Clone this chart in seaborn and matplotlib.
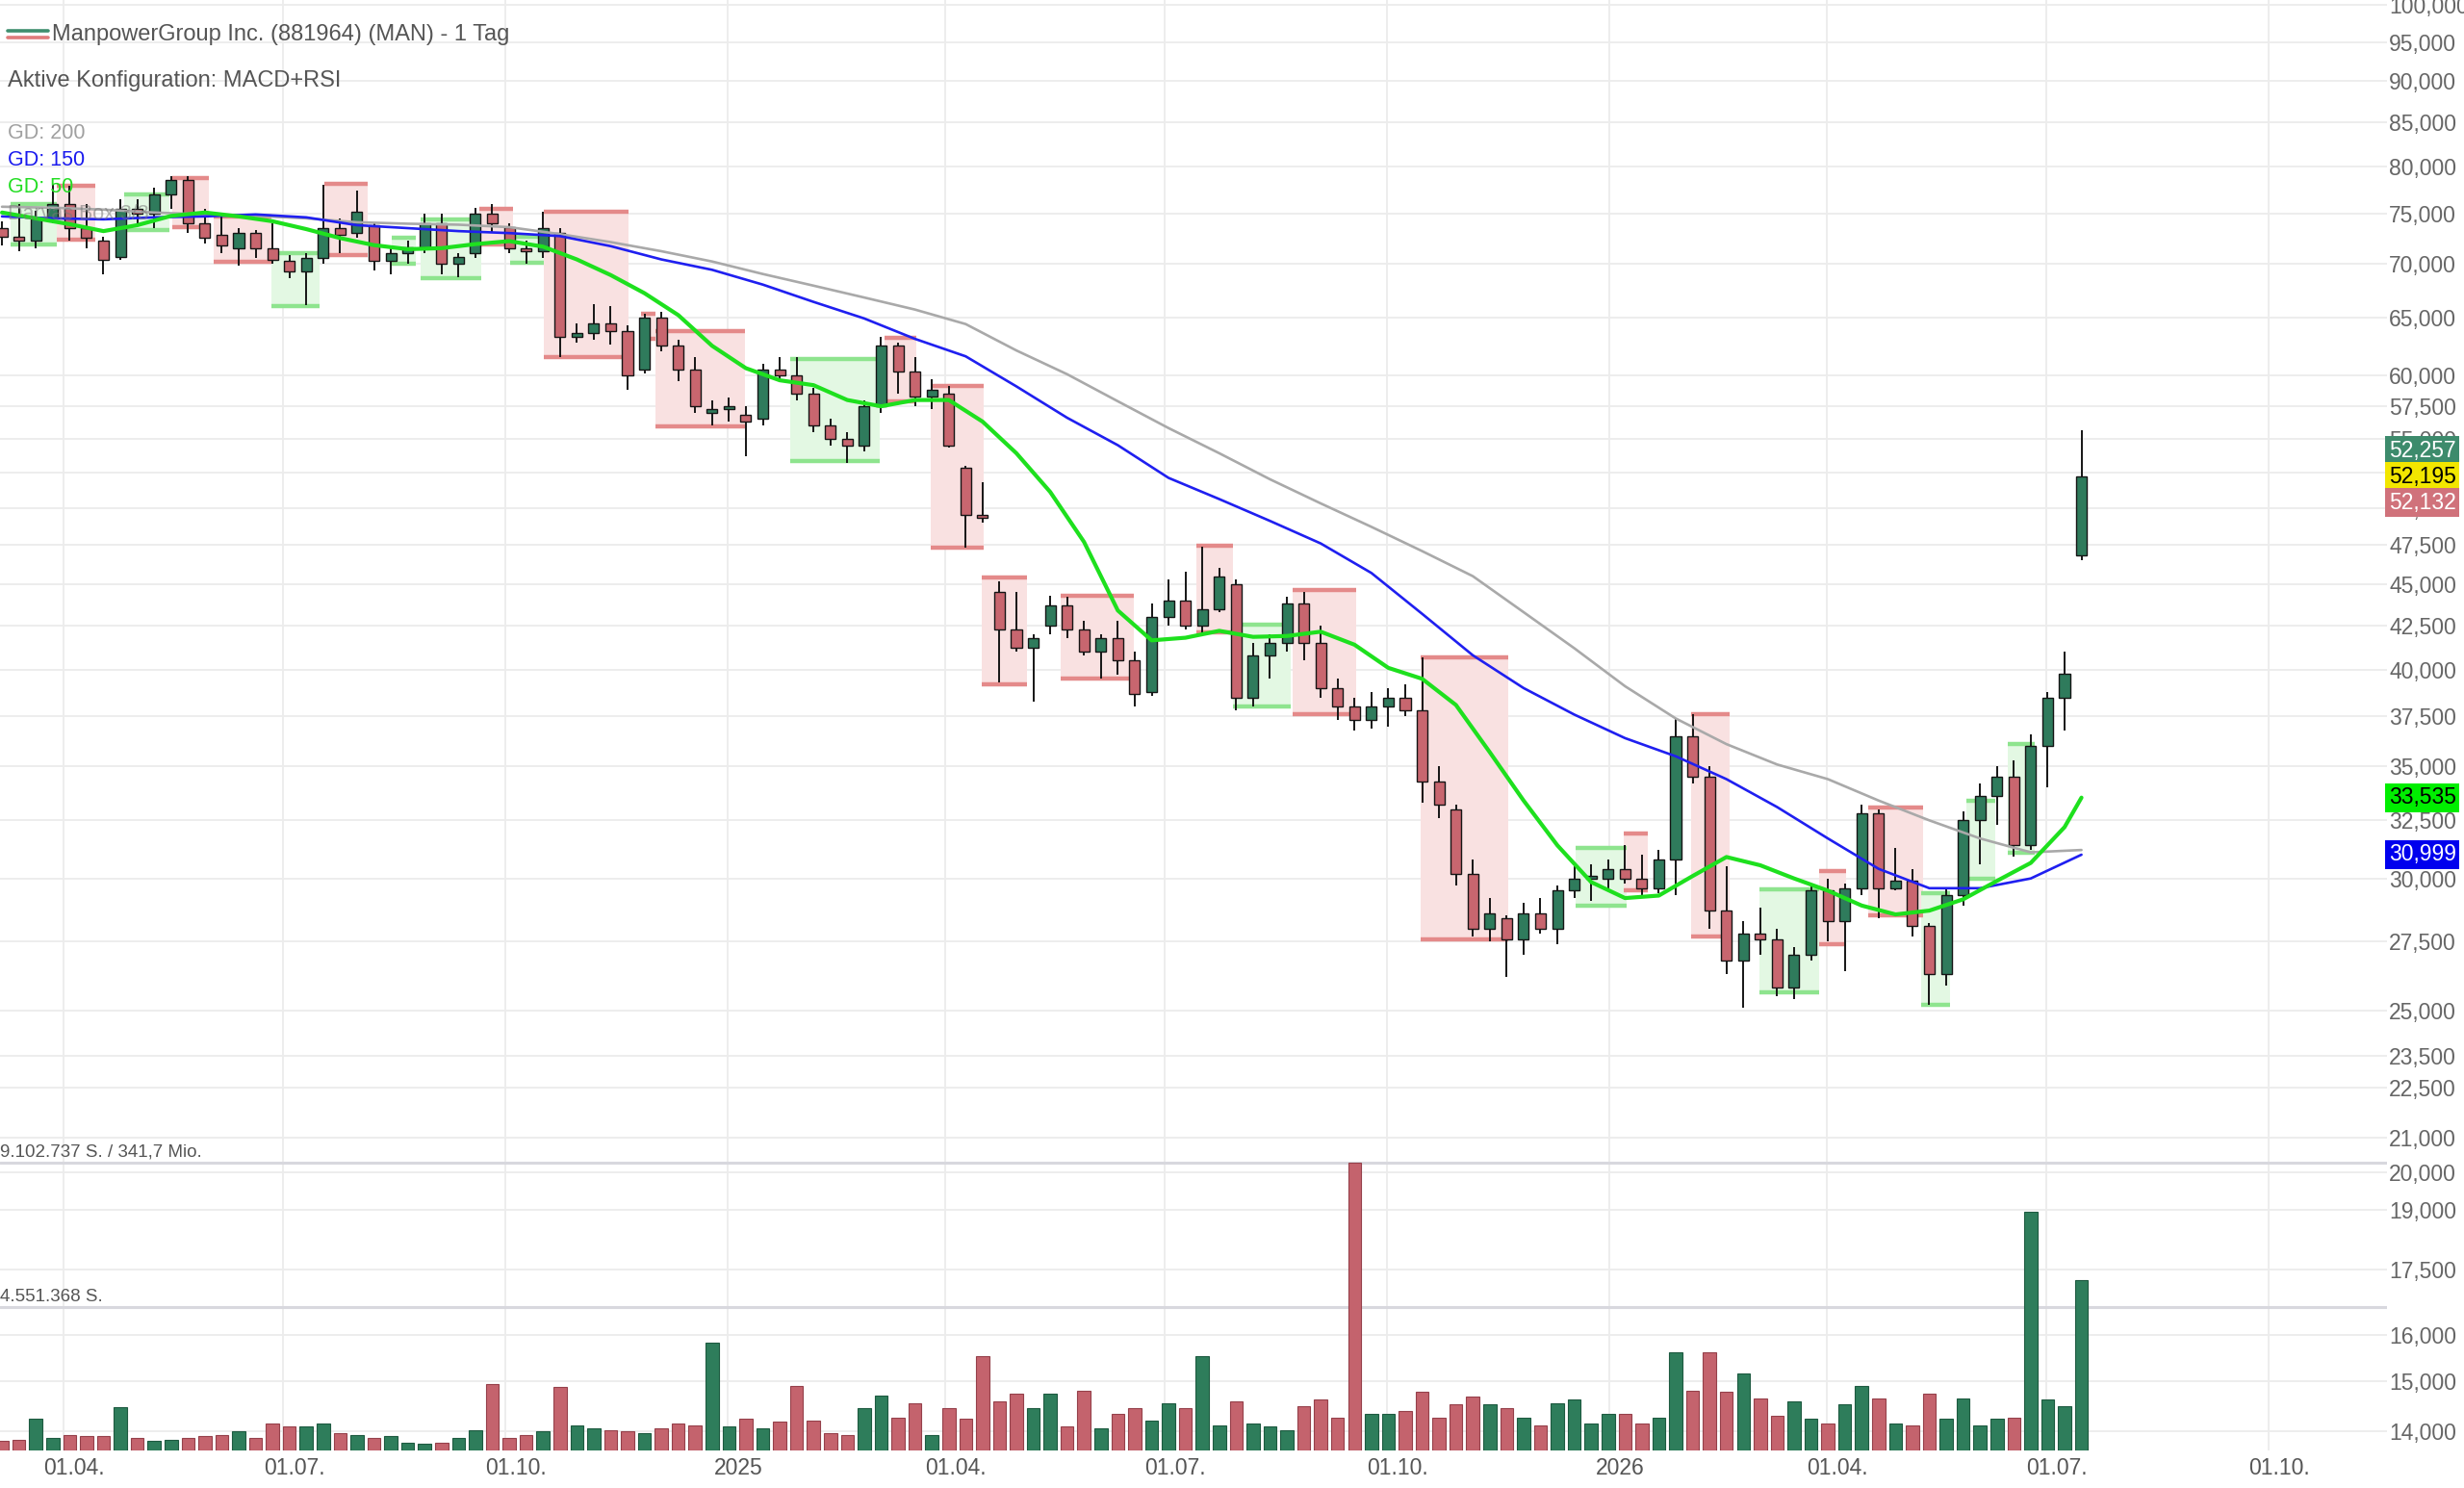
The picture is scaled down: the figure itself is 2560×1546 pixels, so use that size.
import numpy as np
import pandas as pd
import matplotlib
matplotlib.use("Agg")
import matplotlib.pyplot as plt
from matplotlib.lines import Line2D
from matplotlib.ticker import NullLocator
from matplotlib.transforms import ScaledTranslation
import seaborn as sns

# weekly candles (week starting monday), price values
week_start = pd.date_range("2024-03-04", periods=124, freq="7D")

opens = [73.5, 72.6, 72.2, 74.5, 76.0, 73.5, 72.2, 70.6, 75.5, 75.0,
         77.0, 78.5, 74.0, 72.8, 71.5, 73.0, 71.5, 70.3, 69.2, 70.5,
         73.5, 73.0, 73.8, 70.3, 71.0, 71.6, 74.0, 70.0, 71.0, 75.0,
         73.6, 71.5, 71.2, 73.0, 63.3, 63.6, 64.5, 63.8, 60.5, 65.0,
         62.5, 60.5, 57.0, 57.3, 56.8, 56.5, 60.5, 60.0, 58.5, 56.0,
         55.0, 54.5, 57.5, 62.5, 60.3, 58.3, 58.5, 52.8, 49.5, 44.5,
         42.3, 41.2, 42.5, 43.7, 42.3, 41.0, 41.8, 40.5, 38.8, 43.0,
         44.0, 42.5, 43.5, 45.0, 38.5, 40.8, 41.5, 43.8, 41.5, 39.0,
         38.0, 37.3, 38.0, 38.5, 37.8, 34.3, 33.0, 30.2, 28.0, 28.4,
         27.6, 28.6, 28.0, 29.5, 30.0, 30.0, 30.4, 30.0, 29.6, 30.8,
         36.5, 34.5, 28.7, 26.8, 27.8, 27.6, 25.8, 27.0, 29.5, 28.3,
         29.6, 32.8, 29.6, 29.9, 28.1, 26.3, 29.3, 32.5, 33.6, 34.5,
         31.4, 36.0, 38.5, 46.8]
highs = [74.2, 76.0, 75.3, 78.1, 77.9, 76.0, 72.6, 76.5, 76.5, 77.7,
         79.0, 79.0, 75.5, 74.7, 73.5, 73.3, 74.0, 70.8, 71.0, 78.0,
         74.5, 77.4, 74.0, 71.5, 72.2, 75.0, 75.0, 71.0, 75.6, 76.0,
         74.0, 72.2, 75.2, 73.5, 64.5, 66.2, 66.0, 64.3, 65.3, 65.5,
         63.0, 61.5, 58.0, 58.2, 57.5, 61.0, 61.5, 61.5, 59.0, 56.5,
         55.5, 58.0, 63.3, 62.8, 61.5, 59.7, 59.1, 53.0, 51.8, 45.2,
         44.5, 42.0, 44.3, 44.2, 42.8, 42.0, 42.8, 41.0, 43.8, 45.3,
         45.8, 47.4, 46.0, 45.3, 41.5, 42.0, 44.2, 44.5, 42.5, 39.5,
         38.5, 38.8, 39.0, 39.2, 40.7, 35.0, 33.2, 30.8, 29.2, 28.5,
         29.0, 29.2, 29.7, 30.5, 30.6, 30.8, 31.4, 31.0, 31.2, 37.4,
         37.6, 35.0, 30.5, 28.3, 28.8, 28.0, 27.3, 29.7, 30.0, 29.8,
         33.2, 33.0, 31.3, 30.4, 28.2, 29.6, 32.9, 34.2, 35.0, 35.3,
         36.6, 38.8, 41.0, 55.6]
lows = [71.8, 71.2, 71.5, 74.0, 72.2, 71.5, 69.0, 70.4, 74.0, 73.5,
        75.5, 73.0, 72.0, 71.0, 69.8, 70.5, 70.0, 68.6, 66.1, 70.0,
        71.0, 72.5, 69.3, 69.0, 70.0, 71.0, 69.0, 68.7, 70.5, 73.0,
        71.0, 70.0, 70.5, 61.5, 62.8, 63.0, 62.6, 58.8, 60.2, 62.0,
        59.5, 57.0, 56.0, 56.3, 53.7, 56.0, 59.5, 58.0, 55.5, 54.5,
        53.2, 54.0, 57.0, 58.5, 57.5, 57.3, 54.3, 47.3, 49.0, 39.3,
        41.0, 38.3, 42.0, 41.8, 40.8, 39.5, 39.7, 38.0, 38.6, 42.5,
        42.3, 42.0, 43.3, 37.8, 38.0, 39.5, 41.0, 40.5, 38.5, 37.3,
        36.8, 36.9, 37.0, 37.5, 33.3, 32.6, 29.7, 27.7, 27.5, 26.2,
        27.0, 27.8, 27.4, 29.2, 29.1, 29.6, 29.8, 29.3, 29.4, 29.3,
        34.2, 28.0, 26.3, 25.1, 27.0, 25.5, 25.4, 26.8, 27.5, 26.4,
        29.3, 28.4, 29.5, 27.7, 25.2, 25.9, 28.9, 30.6, 32.3, 30.9,
        31.2, 34.0, 36.8, 46.5]
closes = [72.6, 72.2, 74.5, 76.0, 73.5, 72.5, 70.4, 75.5, 75.0, 77.0,
          78.5, 74.0, 72.5, 71.8, 73.0, 71.5, 70.4, 69.2, 70.5, 73.5,
          72.8, 75.2, 70.3, 71.0, 71.6, 74.0, 70.0, 70.6, 75.0, 74.0,
          71.5, 71.2, 73.5, 63.3, 63.6, 64.5, 63.8, 60.0, 65.0, 62.5,
          60.5, 57.5, 57.3, 57.5, 56.3, 60.5, 60.0, 58.5, 56.0, 55.0,
          54.5, 57.5, 62.5, 60.3, 58.3, 58.8, 54.5, 49.5, 49.3, 42.3,
          41.2, 41.8, 43.7, 42.3, 41.0, 41.8, 40.5, 38.7, 43.0, 44.0,
          42.5, 43.5, 45.5, 38.5, 40.8, 41.5, 43.8, 41.5, 39.0, 38.0,
          37.3, 38.0, 38.5, 37.8, 34.3, 33.2, 30.2, 28.0, 28.6, 27.6,
          28.6, 28.0, 29.5, 30.0, 30.0, 30.4, 30.0, 29.6, 30.8, 36.5,
          34.5, 28.7, 26.8, 27.8, 27.6, 25.8, 27.0, 29.5, 28.3, 29.6,
          32.8, 29.6, 29.9, 28.1, 26.3, 29.3, 32.5, 33.6, 34.5, 31.4,
          36.0, 38.5, 39.8, 52.2]
# volume per week in million shares
volumes = [0.30, 0.35, 1.00, 0.40, 0.50, 0.45, 0.45, 1.37, 0.40, 0.30,
           0.35, 0.40, 0.45, 0.50, 0.60, 0.40, 0.85, 0.75, 0.75, 0.85,
           0.55, 0.50, 0.40, 0.45, 0.25, 0.20, 0.25, 0.40, 0.65, 2.10,
           0.40, 0.50, 0.60, 2.00, 0.80, 0.70, 0.65, 0.60, 0.55, 0.70,
           0.85, 0.80, 3.40, 0.75, 1.00, 0.70, 0.90, 2.05, 0.95, 0.55,
           0.50, 1.35, 1.75, 1.05, 1.50, 0.50, 1.35, 1.00, 3.00, 1.55,
           1.80, 1.35, 1.80, 0.75, 1.90, 0.70, 1.15, 1.35, 0.95, 1.50,
           1.35, 3.00, 0.80, 1.55, 0.85, 0.75, 0.65, 1.40, 1.60, 1.05,
           9.10, 1.15, 1.15, 1.25, 1.85, 1.05, 1.45, 1.70, 1.45, 1.35,
           1.05, 0.80, 1.50, 1.60, 0.85, 1.15, 1.15, 0.85, 1.05, 3.10,
           1.90, 3.10, 1.85, 2.45, 1.65, 1.10, 1.55, 1.00, 0.85, 1.45,
           2.05, 1.65, 0.85, 0.80, 1.80, 1.00, 1.65, 0.80, 1.00, 1.05,
           7.55, 1.60, 1.40, 5.40]

# GD 50: one value every 2nd week plus the last week
gd50 = [75.1, 74.5, 73.9, 73.2, 73.8, 74.75, 75.1, 74.7, 74.2, 73.4,
        72.5, 71.8, 71.4, 71.5, 71.9, 72.2, 71.65, 70.4, 68.9, 67.2,
        65.2, 62.5, 60.6, 59.6, 59.2, 58.0, 57.5, 58.0, 58.0, 56.3,
        53.9, 51.1, 47.7, 43.4, 41.65, 41.8, 42.2, 41.85, 41.9, 42.15,
        41.4, 40.1, 39.5, 38.1, 35.7, 33.4, 31.4, 29.85, 29.2, 29.3,
        30.1, 30.9, 30.55, 30.0, 29.5, 28.9, 28.55, 28.7, 29.15, 29.9,
        30.65, 32.2, 33.535]
# GD 150 / GD 200: one value every 3rd week
gd150 = [74.7, 74.5, 74.4, 74.6, 74.7, 74.9, 74.6, 73.8, 73.5, 73.2,
         73.0, 72.7, 71.7, 70.4, 69.4, 68.0, 66.4, 64.9, 63.1, 61.6,
         59.1, 56.6, 54.5, 52.1, 50.6, 49.1, 47.6, 45.7, 43.2, 40.8,
         39.0, 37.6, 36.4, 35.5, 34.4, 33.1, 31.7, 30.4, 29.6, 29.6,
         30.0, 30.999]
gd200 = [75.7, 75.6, 75.4, 75.1, 74.9, 74.75, 74.5, 74.1, 73.95, 73.85,
         73.6, 72.9, 72.1, 71.2, 70.2, 69.0, 67.9, 66.8, 65.7, 64.4,
         62.1, 60.1, 57.9, 55.8, 53.9, 52.0, 50.3, 48.7, 47.1, 45.5,
         43.3, 41.2, 39.1, 37.4, 36.1, 35.1, 34.4, 33.4, 32.5, 31.7,
         31.1, 31.2]

# Darvas boxes
box_start = ["2024-03-10", "2024-03-29", "2024-04-26", "2024-05-16", "2024-06-02",
             "2024-06-26", "2024-07-18", "2024-08-15", "2024-08-27", "2024-09-20",
             "2024-10-03", "2024-10-17", "2024-11-26", "2024-12-02", "2025-01-27",
             "2025-03-07", "2025-03-26", "2025-04-16", "2025-05-19", "2025-07-14",
             "2025-07-29", "2025-08-23", "2025-10-15", "2025-12-18", "2026-01-07",
             "2026-02-04", "2026-03-04", "2026-03-29", "2026-04-18", "2026-05-10",
             "2026-05-29", "2026-06-15"]
box_end = ["2024-03-29", "2024-04-14", "2024-05-15", "2024-05-31", "2024-06-26",
           "2024-07-16", "2024-08-05", "2024-08-25", "2024-09-21", "2024-10-04",
           "2024-10-17", "2024-11-21", "2024-12-02", "2025-01-08", "2025-03-05",
           "2025-03-20", "2025-04-17", "2025-05-05", "2025-06-18", "2025-07-29",
           "2025-08-22", "2025-09-18", "2025-11-20", "2026-01-08", "2026-01-17",
           "2026-02-20", "2026-03-29", "2026-04-09", "2026-05-11", "2026-05-22",
           "2026-06-10", "2026-06-26"]
box_top = [76.0, 77.9, 77.0, 78.8, 74.7, 71.0, 78.1, 72.5, 74.4, 75.5,
           72.6, 75.2, 65.3, 63.8, 61.4, 63.2, 59.1, 45.4, 44.3, 47.45,
           42.55, 44.65, 40.7, 31.3, 31.9, 37.6, 29.55, 30.3, 33.1, 29.4,
           33.4, 36.1]
box_bottom = [71.9, 72.3, 73.3, 73.6, 70.2, 66.0, 70.8, 70.0, 68.6, 71.9,
              70.1, 61.5, 63.1, 55.9, 53.3, 57.9, 47.3, 39.2, 39.5, 42.1,
              38.0, 37.6, 27.6, 28.9, 29.5, 27.7, 25.65, 27.4, 28.5, 25.2,
              30.0, 31.1]
box_kind = ["g", "r", "g", "r", "r", "g", "r", "g", "g", "r",
            "g", "r", "r", "r", "g", "r", "r", "r", "r", "r",
            "g", "r", "r", "g", "r", "r", "g", "r", "r", "g",
            "g", "g"]

y_ticks = [100, 95, 90, 85, 80, 75, 70, 65, 60, 57.5, 55, 52.5, 50, 47.5, 45,
           42.5, 40, 37.5, 35, 32.5, 30, 27.5, 25, 23.5, 22.5, 21, 20, 19,
           17.5, 16, 15, 14]
x_tick_dates = ["2024-04-01", "2024-07-01", "2024-10-01", "2025-01-01", "2025-04-01",
                "2025-07-01", "2025-10-01", "2026-01-01", "2026-04-01", "2026-07-01",
                "2026-10-01"]
x_tick_labels = ["01.04.", "01.07.", "01.10.", "2025", "01.04.", "01.07.", "01.10.",
                 "2026", "01.04.", "01.07.", "01.10."]

vol_max = 9102737
last_price = 52.195
ask_price = 52.257
bid_price = 52.132

GREEN = "#2f7b5c"
RED = "#c8666f"

sns.set_theme(style="white")
plt.rcParams["font.family"] = ["Liberation Sans", "DejaVu Sans"]

W, H = 2560, 1546
fig = plt.figure(figsize=(W / 100, H / 100), dpi=100)
ax = fig.add_axes([0, 1 - 1507 / H, 2480 / W, 1507 / H])

centers = week_start + pd.Timedelta(hours=60)
o = np.array(opens)
c = np.array(closes)
up = c >= o

# boxes
for s, e, t, b, k in zip(box_start, box_end, box_top, box_bottom, box_kind):
    fill = "#f9e1e1" if k == "r" else "#e3f8e3"
    edge = "#e48a8a" if k == "r" else "#8ee48e"
    xs = [pd.Timestamp(s), pd.Timestamp(e)]
    ax.fill_between(xs, b, t, color=fill, lw=0, zorder=1.5)
    ax.hlines([t, b], xs[0], xs[1], color=edge, lw=3.2, zorder=1.6)

# candles
ax.vlines(centers, lows, highs, color="#151515", lw=1.4, zorder=3)
ax.bar(centers, np.maximum(np.abs(c - o), 0.12), bottom=np.minimum(o, c), width=4.4,
       color=np.where(up, GREEN, RED), edgecolor="#151515", linewidth=1.0, zorder=3.5)

# moving averages
slow_df = pd.DataFrame({"date": centers[::3], "GD 200": gd200, "GD 150": gd150})
fast_df = pd.DataFrame({"date": centers[list(range(0, 123, 2)) + [123]], "GD 50": gd50})
sns.lineplot(data=slow_df, x="date", y="GD 200", color="#a9a9a9", lw=1.9, ax=ax, zorder=4)
sns.lineplot(data=slow_df, x="date", y="GD 150", color="#1f1ff0", lw=1.9, ax=ax, zorder=4)
sns.lineplot(data=fast_df, x="date", y="GD 50", color="#1ee01e", lw=3.0, ax=ax, zorder=4.2)

# volume on a twin axis
ax2 = ax.twinx()
vol = np.array(volumes) * 1e6
ax2.bar(centers, vol, width=5.4, color=np.where(up, "#2e7d5b", "#c4636d"),
        edgecolor=np.where(up, "#1d5a40", "#95404a"), linewidth=0.8, zorder=2)
ax2.axhline(vol_max, color="#d8d8de", lw=2.2, zorder=1)
ax2.axhline(vol_max / 2, color="#d8d8de", lw=2.2, zorder=1)
ax2.set_ylim(0, 45.9e6)
ax2.yaxis.set_visible(False)
for sp in ax2.spines.values():
    sp.set_visible(False)

ax.set_yscale("log")
ax.set_ylim(13.64, 100.65)
ax.set_xlim(pd.Timestamp("2024-03-05 16:00"), pd.Timestamp("2026-11-19"))
ax.set_xlabel("")
ax.set_ylabel("")

ax.yaxis.tick_right()
ax.set_yticks(y_ticks)
ax.set_yticklabels([f"{v:.3f}".replace(".", ",") for v in y_ticks])
ax.yaxis.set_minor_locator(NullLocator())
ax.set_xticks([pd.Timestamp(d) for d in x_tick_dates])
ax.set_xticklabels(x_tick_labels)
ax.tick_params(axis="y", which="both", left=False, right=False, labelleft=False,
               labelright=True, length=0, pad=1.5, labelsize=16.5, labelcolor="#666666")
ax.tick_params(axis="x", length=0, pad=5, labelsize=16.5, labelcolor="#555555")
for lab in ax.get_xticklabels():
    lab.set_transform(lab.get_transform() + ScaledTranslation(8 / 72, 0, fig.dpi_scale_trans))
ax.grid(True, color="#ececec", lw=1.3)
ax.set_axisbelow(True)
for sp in ax.spines.values():
    sp.set_visible(False)

# price tags on the right
def tag(val, dy, fc, tc, text=None):
    ax2.annotate(text or f"{val:.3f}".replace(".", ","), xy=(1, val),
                 xycoords=("axes fraction", ax.transData), xytext=(1.2, dy),
                 textcoords="offset points", ha="left", va="center", fontsize=16.5,
                 color=tc, bbox=dict(boxstyle="square,pad=0.16", fc=fc, ec="none"),
                 annotation_clip=False, zorder=10)

tag(last_price, 19.4, "#3d8b6c", "white", f"{ask_price:.3f}".replace(".", ","))
tag(last_price, 0, "#f2e600", "black")
tag(last_price, -19.4, "#d0727b", "white", f"{bid_price:.3f}".replace(".", ","))
tag(gd50[-1], 0, "#00ee00", "black")
tag(gd150[-1], 0, "#0000ee", "white")

# header texts
def ftext(x, y, s, **kw):
    fig.text(x / W, 1 - y / H, s, va="center", ha="left", **kw)

fig.add_artist(Line2D([8 / W, 50 / W], [1 - 32 / H] * 2, color="#3f8e6e", lw=2.6))
fig.add_artist(Line2D([8 / W, 50 / W], [1 - 39 / H] * 2, color="#e07b7b", lw=2.6))
ftext(54, 36, "ManpowerGroup Inc. (881964) (MAN) - 1 Tag", fontsize=17, color="#555555")
ftext(8, 84, "Aktive Konfiguration: MACD+RSI", fontsize=17, color="#555555")
ftext(8, 139, "GD: 200", fontsize=15.5, color="#a0a0a0")
ftext(8, 167, "GD: 150", fontsize=15.5, color="#1a1aee")
ftext(8, 195, "GD: 50", fontsize=15.5, color="#22dd22")
ftext(8, 222, "Darvas Box 3/3", fontsize=15.5, color="#777777", alpha=0.55)
ftext(0, 1197, "9.102.737 S. / 341,7 Mio.", fontsize=13.5, color="#555555")
ftext(0, 1348, "4.551.368 S.", fontsize=13.5, color="#555555")

fig.savefig("out.png", dpi=100, facecolor="white")
